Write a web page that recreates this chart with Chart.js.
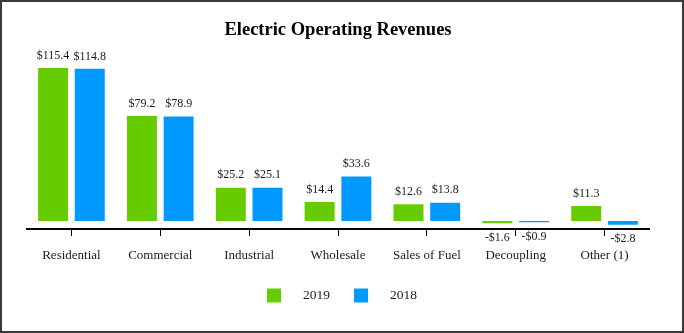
<!DOCTYPE html>
<html>
<head>
<meta charset="utf-8">
<script src="https://cdn.jsdelivr.net/npm/chart.js@4.4.1/dist/chart.umd.min.js"></script>
<style>
  html, body { margin: 0; padding: 0; background: #fff; }
  #wrap { position: relative; width: 684px; height: 333px; }
  #c { position: absolute; left: 0; top: 0; }
  #frame { position: absolute; left: 0; top: 0; width: 684px; height: 333px; box-sizing: border-box; border: 2px solid #3a3a3a; pointer-events: none; }
</style>
</head>
<body>
<div id="wrap">
  <canvas id="c" width="684" height="333"></canvas>
  <div id="frame"></div>
</div>
<script>
const categories = ['Residential', 'Commercial', 'Industrial', 'Wholesale', 'Sales of Fuel', 'Decoupling', 'Other (1)'];
const values2019 = [115.4, 79.2, 25.2, 14.4, 12.6, -1.6, 11.3];
const values2018 = [114.8, 78.9, 25.1, 33.6, 13.8, -0.9, -2.8];
const seriesNames = ['2019', '2018'];
const seriesColors = ['#66CC00', '#0099FF'];

const SERIF = '"Liberation Serif", "Times New Roman", Times, serif';

function fmt(v) {
  return (v < 0 ? '-$' : '$') + Math.abs(v).toFixed(1);
}

const valueLabels = {
  id: 'valueLabels',
  afterDatasetsDraw(chart) {
    const ctx = chart.ctx;
    ctx.save();
    ctx.font = '12px ' + SERIF;
    ctx.fillStyle = '#1a1a1a';
    ctx.textAlign = 'center';
    ctx.textBaseline = 'middle';
    chart.data.datasets.forEach((ds, di) => {
      const meta = chart.getDatasetMeta(di);
      meta.data.forEach((el, i) => {
        const v = ds.data[i];
        const y = v >= 0 ? el.y - 12.5 : el.y + 14.5;
        ctx.fillText(fmt(v), el.x, y);
      });
    });
    ctx.restore();
  }
};

const customLegend = {
  id: 'customLegend',
  afterDraw(chart) {
    const ctx = chart.ctx;
    ctx.save();
    ctx.font = '13.5px ' + SERIF;
    const box = 14, gapText = 22, gapItem = 24;
    const items = chart.data.datasets.map(d => ({ text: d.label, color: d.backgroundColor, w: ctx.measureText(d.label).width }));
    let total = 0;
    items.forEach((it, i) => { total += box + gapText + it.w + (i < items.length - 1 ? gapItem : 0); });
    let x = chart.width / 2 - total / 2;
    const cy = 295.5;
    ctx.textBaseline = 'middle';
    ctx.textAlign = 'left';
    items.forEach(it => {
      ctx.fillStyle = it.color;
      ctx.fillRect(x, cy - box / 2, box, box);
      x += box + gapText;
      ctx.fillStyle = '#1a1a1a';
      ctx.fillText(it.text, x, cy);
      x += it.w + gapItem;
    });
    ctx.restore();
  }
};

new Chart(document.getElementById('c'), {
  type: 'bar',
  data: {
    labels: categories,
    datasets: [
      { label: seriesNames[0], data: values2019, backgroundColor: seriesColors[0], borderWidth: 0 },
      { label: seriesNames[1], data: values2018, backgroundColor: seriesColors[1], borderWidth: 0 }
    ]
  },
  options: {
    responsive: false,
    animation: false,
    devicePixelRatio: 1,
    categoryPercentage: 0.826,
    barPercentage: 0.817,
    layout: { padding: { left: 27, right: 35, top: 0, bottom: 64 } },
    plugins: {
      legend: { display: false },
      tooltip: { enabled: false },
      title: {
        display: true,
        text: 'Electric Operating Revenues',
        color: '#000',
        font: { family: SERIF, size: 18.5, weight: 'bold', lineHeight: 1.2 },
        padding: { top: 19, bottom: 7.5 }
      }
    },
    scales: {
      x: {
        grid: { display: true, drawOnChartArea: false, drawTicks: true, tickLength: 7, offset: false, color: '#000', lineWidth: 1 },
        border: { display: true, color: '#000', width: 2 },
        ticks: { color: '#1a1a1a', font: { family: SERIF, size: 13 }, padding: 12, maxRotation: 0, autoSkip: false },
        afterFit(scale) { scale.height = 40; }
      },
      y: {
        display: false,
        min: -6,
        max: 130
      }
    }
  },
  plugins: [valueLabels, customLegend]
});
</script>
</body>
</html>
